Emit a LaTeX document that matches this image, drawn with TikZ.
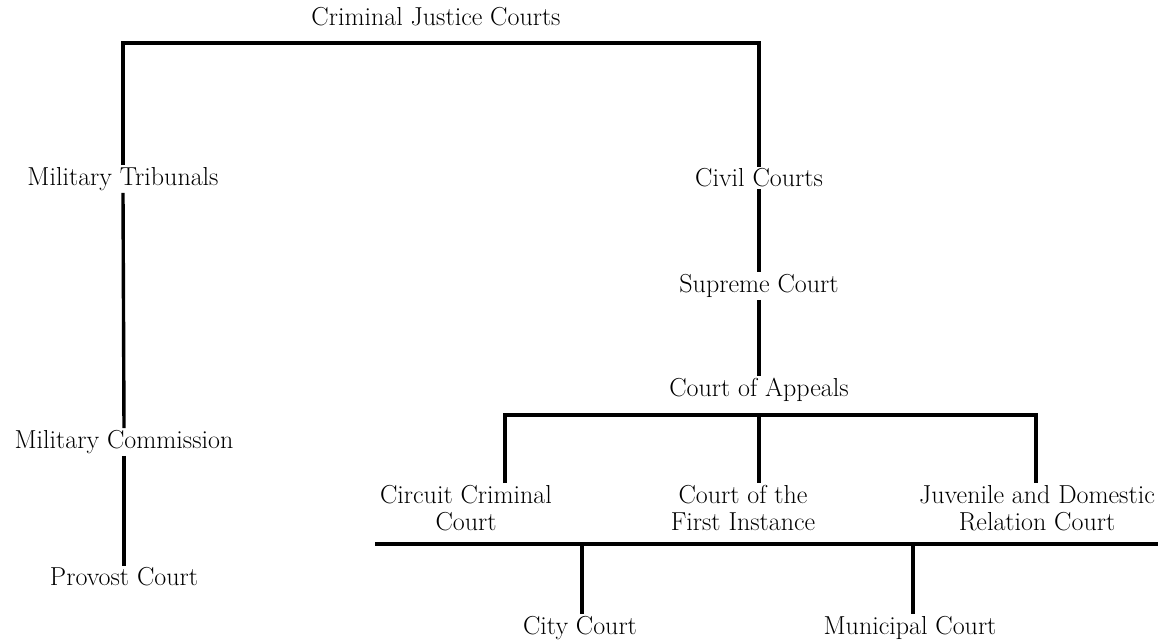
\documentclass[tikz,border=0pt]{standalone}
\begin{document}
\begin{tikzpicture}[x=1pt,y=-1pt,
  lbl/.style={font=\fontsize{26}{27}\selectfont, inner xsep=0pt, inner ysep=2pt, align=center},
  ln/.style={line width=3.4pt, line cap=butt}]
\useasboundingbox (0,0) rectangle (1158,642);
% nodes
\node[lbl] (cjc) at (436,17) {Criminal Justice Courts};
\node[lbl] (mt)  at (123,179) {Military Tribunals};
\node[lbl] (mc)  at (124,442) {Military Commission};
\node[lbl] (pc)  at (124,577) {Provost Court};
\node[lbl] (cc)  at (759,178) {Civil Courts};
\node[lbl] (sc)  at (759,286) {Supreme Court};
\node[lbl] (ca)  at (759,390) {Court of Appeals};
\node[lbl,anchor=north] (ccc) at (466,483) {Circuit Criminal\\Court};
\node[lbl,anchor=north] (fi)  at (743,483) {Court of the\\First Instance};
\node[lbl,anchor=north] (jdr) at (1037,483) {Juvenile and Domestic\\Relation Court};
\node[lbl] (city) at (580,628) {City Court};
\node[lbl] (mun)  at (910,628) {Municipal Court};
% bar coordinates
\coordinate (b1L) at (123,43);
\coordinate (b1R) at (759,43);
\coordinate (b2L) at (505,415);
\coordinate (b2M) at (759,415);
\coordinate (b2R) at (1036,415);
\coordinate (b3L) at (375,544);
\coordinate (b3R) at (1165,544);
\coordinate (b3a) at (582,544);
\coordinate (b3b) at (913,544);
% connectors
\draw[ln] (mt.north -| b1L) -- (b1L) -- (b1R) -- (cc.north -| b1R);
\draw[ln] (mt.south) -- (mc.north);
\draw[ln] (mc.south) -- (pc.north);
\draw[ln] (cc.south) -- (sc.north);
\draw[ln] (sc.south) -- (ca.north);
\draw[ln] (ccc.north -| b2L) -- (b2L) -- (b2R) -- (jdr.north -| b2R);
\draw[ln] (b2M) -- (fi.north -| b2M);
\draw[ln] (b3L) -- (b3R);
\draw[ln] (b3a) -- (city.north -| b3a);
\draw[ln] (b3b) -- (mun.north -| b3b);
\end{tikzpicture}
\end{document}
